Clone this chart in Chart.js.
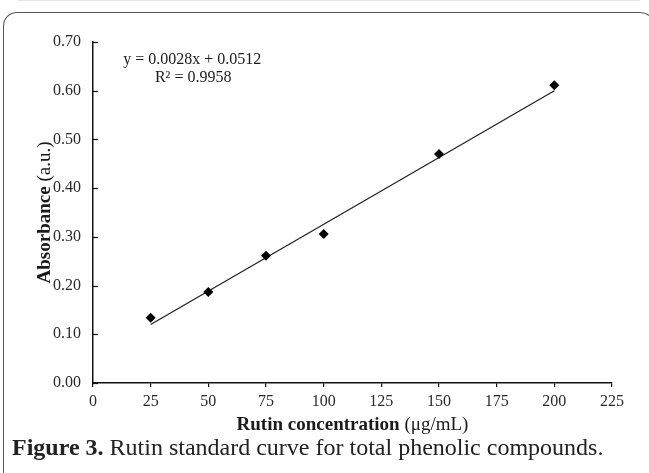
<!DOCTYPE html>
<html>
<head>
<meta charset="utf-8">
<script src="https://cdn.jsdelivr.net/npm/chart.js@4"></script>
<style>
  body { margin: 0; background: #fff; }
  #wrap { position: relative; width: 649px; height: 473px; overflow: hidden; }
  #frame {
    position: absolute; left: 3px; top: 12px; width: 651px; height: 470px;
    border: 1.5px solid #555; border-bottom: none;
    border-radius: 14px 16px 0 10px;
  }
  #topline { position: absolute; left: 18px; top: 0; width: 622px; height: 1px; background: #e4e4e4; }
  #caption {
    position: absolute; left: 12px; top: 434px; white-space: nowrap;
    font-family: 'Liberation Serif', 'Times New Roman', serif; font-size: 24px; color: #222;
  }
  canvas { position: absolute; left: 0; top: 0; }
</style>
</head>
<body>
<div id="wrap">
  <div id="topline"></div>
  <div id="frame"></div>
  <canvas id="curve" width="649" height="473"></canvas>
  <div id="caption"><b>Figure 3.</b> Rutin standard curve for total phenolic compounds.</div>
</div>
<script>
// Rutin standard curve data
concentration = [25, 50, 75, 100, 150, 200]
absorbance = [0.134, 0.187, 0.261, 0.306, 0.470, 0.611]
// fitted line end points
trend_x = [25, 200]
trend_y = [0.12, 0.60]
equation = ['y = 0.0028x + 0.0512', 'R\u00b2 = 0.9958']

serif = "'Liberation Serif', 'Times New Roman', serif"

function toPoints(xs, ys) {
    pts = []
    for (let i = 0; i < xs.length; i++) {
        pts.push({ x: xs[i], y: ys[i] })
    }
    return pts
}

// draws "bold part" + " normal part" centred at (cx, cy)
function mixedText(ctx, boldPart, normalPart, cx, cy, size) {
    ctx.font = 'bold ' + size + 'px ' + serif
    w1 = ctx.measureText(boldPart).width
    ctx.font = size + 'px ' + serif
    w2 = ctx.measureText(normalPart).width
    x0 = cx - (w1 + w2) / 2
    ctx.textAlign = 'left'
    ctx.textBaseline = 'alphabetic'
    ctx.font = 'bold ' + size + 'px ' + serif
    ctx.fillText(boldPart, x0, cy)
    ctx.font = size + 'px ' + serif
    ctx.fillText(normalPart, x0 + w1, cy)
}

extras = {
    id: 'extras',
    afterDraw(chart) {
        const ctx = chart.ctx
        const area = chart.chartArea
        const xs = chart.scales.x
        const ys = chart.scales.y
        ctx.save()
        ctx.fillStyle = '#1a1a1a'

        // inward y ticks
        ctx.strokeStyle = '#111'
        ctx.lineWidth = 1.2
        ys.ticks.forEach(function (t) {
            py = Math.round(ys.getPixelForValue(t.value)) + 0.5
            ctx.beginPath()
            ctx.moveTo(area.left, py)
            ctx.lineTo(area.left + 5, py)
            ctx.stroke()
        })

        // axis titles
        mixedText(ctx, 'Rutin concentration', ' (\u03bcg/mL)', (area.left + area.right) / 2, area.bottom + 47, 19)
        ctx.save()
        ctx.translate(50, (area.top + area.bottom) / 2)
        ctx.rotate(-Math.PI / 2)
        mixedText(ctx, 'Absorbance', ' (a.u.)', 0, 0, 19)
        ctx.restore()

        // regression equation
        ctx.font = '16px ' + serif
        ctx.textAlign = 'center'
        ex = xs.getPixelForValue(43)
        ey = ys.getPixelForValue(0.655)
        ctx.fillText(equation[0], ex, ey)
        ctx.fillText(equation[1], ex + 1, ey + 18)
        ctx.restore()
    }
}

tickFont = { family: serif, size: 16 }

new Chart(document.getElementById('curve'), {
    type: 'scatter',
    data: {
        datasets: [
            {
                label: 'Rutin',
                data: toPoints(concentration, absorbance),
                pointStyle: 'rectRot',
                pointRadius: 5,
                pointHoverRadius: 5,
                backgroundColor: '#000',
                borderColor: '#000',
                borderWidth: 0
            },
            {
                label: 'Linear fit',
                data: toPoints(trend_x, trend_y),
                showLine: true,
                pointRadius: 0,
                borderColor: '#222',
                borderWidth: 1.3
            }
        ]
    },
    options: {
        responsive: false,
        animation: false,
        events: [],
        layout: { padding: { left: 0, top: 42, right: 37, bottom: 40 } },
        plugins: { legend: { display: false }, tooltip: { enabled: false } },
        scales: {
            x: {
                type: 'linear',
                min: 0,
                max: 225,
                afterFit: function (s) { s.height = 50 },
                ticks: { stepSize: 25, font: tickFont, color: '#2a2a2a', padding: 5, maxRotation: 0 },
                grid: { drawOnChartArea: false, drawTicks: true, tickLength: 4, color: '#111', lineWidth: 1.2 },
                border: { color: '#111', width: 1.5 }
            },
            y: {
                min: 0,
                max: 0.7,
                afterFit: function (s) { s.width = 93 },
                ticks: {
                    stepSize: 0.1, font: tickFont, color: '#2a2a2a', padding: 12,
                    callback: function (v) { return v.toFixed(2) }
                },
                grid: { display: false, drawTicks: false },
                border: { display: true, color: '#111', width: 1.5 }
            }
        }
    },
    plugins: [extras]
});
</script>
</body>
</html>
